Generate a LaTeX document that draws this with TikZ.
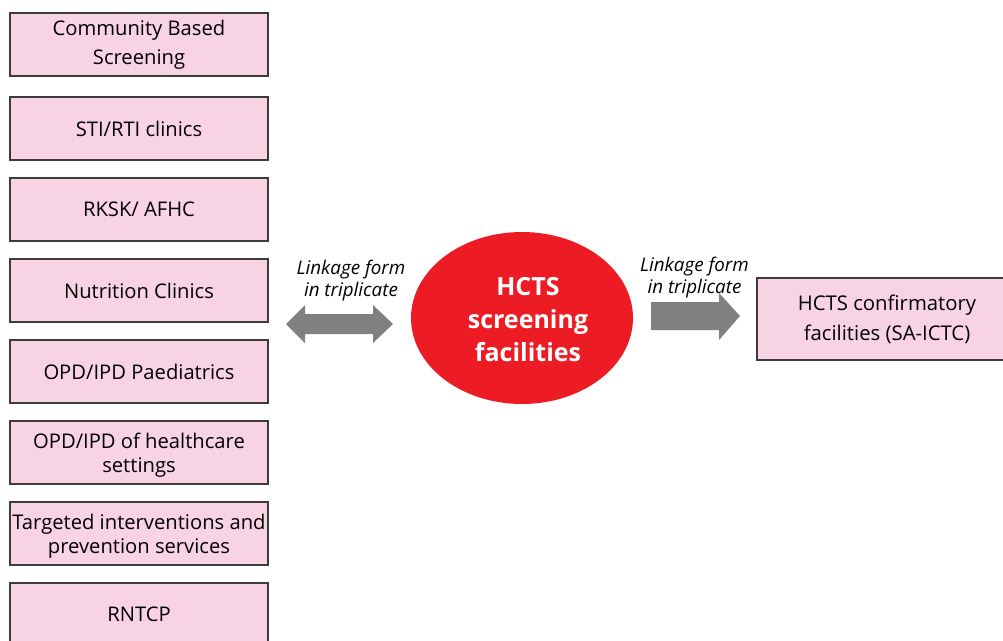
\documentclass[tikz,border=0pt]{standalone}
\usepackage{fontspec}
\setmainfont{Open Sans}
\usetikzlibrary{shapes.geometric}
\definecolor{boxpink}{HTML}{F8D3E4}
\definecolor{boxline}{HTML}{3C3C3C}
\definecolor{hred}{HTML}{ED1C24}
\definecolor{agray}{HTML}{808080}
\newcommand{\twolines}[2]{\raisebox{-3.5pt}[\height][\depth]{\begin{tabular}{@{}c@{}}#1\\#2\end{tabular}}}
\begin{document}
\begin{tikzpicture}[x=1pt,y=-1pt,
  src/.style={draw=boxline,line width=2pt,fill=boxpink,minimum width=258pt,minimum height=63pt,
    inner sep=0pt,align=center,font=\fontsize{20.2}{24}\selectfont,text=black},
  lbl/.style={align=center,font=\fontsize{18.8}{22}\selectfont\itshape,inner sep=0pt},
  blk/.style={fill=agray,draw=none}]
\useasboundingbox (0,0) rectangle (1003,640);
\begin{scope}
\clip (0,0) rectangle (1003,640);
\node[src,font=\fontsize{20.2}{29}\selectfont] (b1) at (139,44.5) {Community Based\\Screening};
\node[src] (b2) at (139,128.5) {STI/RTI clinics};
\node[src] (b3) at (139,209.5) {RKSK/ AFHC};
\node[src] (b4) at (139,290.5) {Nutrition Clinics};
\node[src] (b5) at (139,371.5) {OPD/IPD Paediatrics};
\node[src] (b6) at (139,452.5) {\twolines{OPD/IPD of healthcare}{settings}};
\node[src] (b7) at (139,533.5) {\twolines{Targeted interventions and}{prevention services}};
\node[src,minimum height=80pt,text depth=0pt] (b8) at (139,623) {};
\node[font=\fontsize{20.2}{24}\selectfont] at (139,614) {RNTCP};
\node[draw=boxline,line width=2pt,fill=boxpink,minimum width=260pt,minimum height=82pt,inner sep=0pt,
  align=center,font=\fontsize{20.3}{30}\selectfont] (conf) at (887,319) {HCTS confirmatory\\facilities (SA-ICTC)};
\end{scope}
\node[ellipse,fill=hred,minimum width=222pt,minimum height=172pt,inner sep=0pt] (hcts) at (522,318) {};
\node[align=center,text=white,inner sep=0pt,font=\fontsize{25}{33}\selectfont\bfseries] (hctstext) at (528,320) {HCTS\\screening\\facilities};
% double arrow
\coordinate (dl) at (286,324);
\coordinate (dr) at (393,324);
\fill[blk] (dl) -- (305,305) -- (305,314) -- (373,314) -- (373,305) -- (dr) -- (373,343) -- (373,334) -- (305,334) -- (305,343) -- cycle;
\node[lbl] (l1) at (351,281) {Linkage form\\in triplicate};
% right arrow
\coordinate (rl) at (651,316);
\coordinate (rt) at (740,316);
\fill[blk] (651,302) -- (719,302) -- (719,293) -- (rt) -- (719,340) -- (719,330) -- (651,330) -- cycle;
\node[lbl] (l2) at (694.5,278) {Linkage form\\in triplicate};
\end{tikzpicture}
\end{document}
